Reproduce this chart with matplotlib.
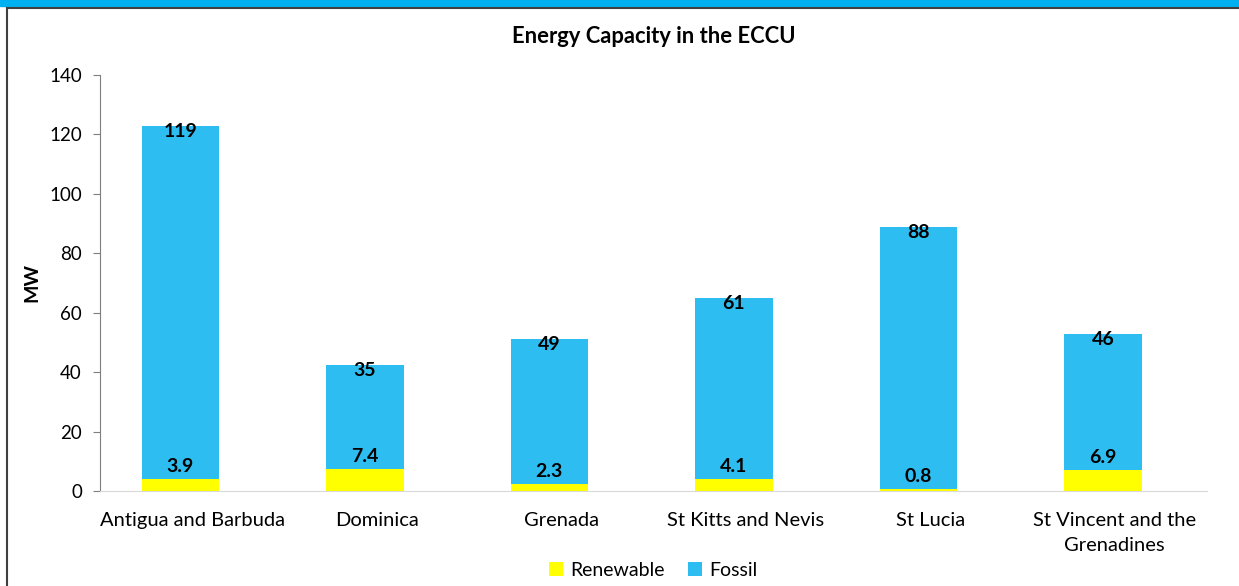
import numpy as np
import matplotlib.pyplot as plt
from matplotlib.lines import Line2D
from matplotlib.patches import Rectangle

plt.rcParams['font.family'] = ['Lato', 'DejaVu Sans']

countries = ['Antigua and Barbuda', 'Dominica', 'Grenada', 'St Kitts and Nevis',
             'St Lucia', 'St Vincent and the\nGrenadines']
renewable = [3.9, 7.4, 2.3, 4.1, 0.8, 6.9]
fossil = [119, 35, 49, 61, 88, 46]

fig = plt.figure(figsize=(12.39, 5.86), dpi=100)
ax = fig.add_axes([100 / 1239, 1 - 491 / 586, 1107 / 1239, 416 / 586])

# frame decorations
fig.patches.append(Rectangle((0, 1 - 6 / 586), 1, 6 / 586, transform=fig.transFigure,
                             color='#00B0F0', zorder=0))
fig.lines.append(Line2D([7 / 1239, 1], [1 - 8 / 586] * 2, transform=fig.transFigure,
                        color='#404040', lw=1.5))
fig.lines.append(Line2D([7 / 1239] * 2, [0, 1 - 8 / 586], transform=fig.transFigure,
                        color='#404040', lw=1.5))

x = np.arange(len(countries))
xb = x - 0.065
w = 0.42
ax.bar(xb, renewable, w, color='#FFFF00', label='Renewable', zorder=2)
ax.bar(xb, fossil, w, bottom=renewable, color='#2EBDF0', label='Fossil', zorder=2)

for xi, r, f in zip(xb, renewable, fossil):
    ax.annotate(f'{r:g}', (xi, r), xytext=(0, 9), textcoords='offset points',
                ha='center', va='center', fontsize=14, fontweight='bold')
    ax.annotate(f'{f:g}', (xi, r + f), xytext=(0, -4), textcoords='offset points',
                ha='center', va='center', fontsize=14, fontweight='bold')

ax.set_xlim(-0.5, len(countries) - 0.5)
ax.set_ylim(0, 140)
ax.set_yticks(range(0, 141, 20))
ax.set_xticks(x)
ax.set_xticklabels(countries, fontsize=14.5, linespacing=1.6)
ax.tick_params(axis='x', length=0, pad=15)
ax.tick_params(axis='y', length=5, color='#7F7F7F', labelsize=13.5, pad=8)
for s in ['top', 'right']:
    ax.spines[s].set_visible(False)
ax.spines['left'].set_color('#7F7F7F')
ax.spines['bottom'].set_color('#D9D9D9')
ax.set_ylabel('MW', fontsize=14, fontweight='bold', labelpad=6)
ax.set_title('Energy Capacity in the ECCU', fontsize=15.8, fontweight='bold', pad=23)

ax.legend(loc='center', bbox_to_anchor=(0.5, -0.19), ncol=2, frameon=False,
          fontsize=14, handlelength=0.7, handleheight=0.7, columnspacing=1.2,
          handletextpad=0.4, borderpad=0.2)

fig.savefig('out.png', dpi=100)
